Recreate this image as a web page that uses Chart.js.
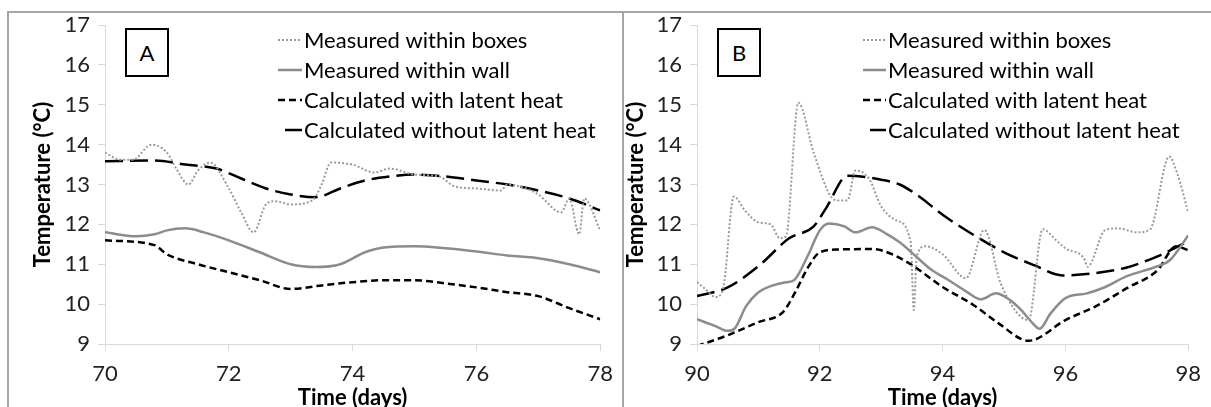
<!DOCTYPE html>
<html>
<head>
<meta charset="utf-8">
<script src="https://cdn.jsdelivr.net/npm/chart.js@4.4.0/dist/chart.umd.min.js"></script>
<style>
	html, body { margin: 0; padding: 0; background: #fff; }
	body { width: 1211px; height: 407px; overflow: hidden; position: relative; font-family: Lato, "Open Sans", sans-serif; }
	canvas { position: absolute; top: 0; }
	#chartA { left: 0; }
	#chartB { left: 620px; }
	.frame { position: absolute; background: #a6a6a6; }
	.panel-tag { position: absolute; box-sizing: border-box; border: 2px solid #000; font-size: 22px; color: #000;
		display: flex; align-items: center; justify-content: center; background: #fff; }
</style>
</head>
<body>
<canvas id="chartA" width="623" height="420"></canvas>
<canvas id="chartB" width="591" height="420"></canvas>

<!-- outer frame and divider -->
<div class="frame" style="left:8px; top:11px; width:1203px; height:2px;"></div>
<div class="frame" style="left:7px; top:11px; width:2px; height:396px;"></div>
<div class="frame" style="left:622px; top:11px; width:2px; height:396px;"></div>

<div class="panel-tag" style="left:125px; top:28px; width:44px; height:49px;">A</div>
<div class="panel-tag" style="left:717px; top:28px; width:44px; height:49px;">B</div>

<script>
// ---- Series labels
var seriesNames = ["Measured within boxes", "Measured within wall", "Calculated with latent heat", "Calculated without latent heat"];

// ---- Panel A (days 70 - 78)
var aBoxesX = [70.0, 70.25, 70.45, 70.75, 71.0, 71.15, 71.35, 71.5, 71.7, 72.0, 72.2, 72.4, 72.6, 72.75, 73.0, 73.35, 73.5, 73.65, 74.0, 74.35, 74.6, 75.0, 75.4, 75.65, 76.0, 76.4, 76.5, 76.8, 77.0, 77.37, 77.5, 77.66, 77.74, 78.0];
var aBoxesY = [13.8, 13.62, 13.62, 14.0, 13.8, 13.4, 13.0, 13.35, 13.55, 12.9, 12.3, 11.8, 12.5, 12.58, 12.5, 12.6, 13.0, 13.55, 13.5, 13.3, 13.4, 13.25, 13.2, 12.95, 12.9, 12.85, 13.0, 12.9, 12.75, 12.3, 12.65, 11.75, 12.65, 11.85];
var aWallX = [70.0, 70.5, 70.8, 71.0, 71.3, 71.6, 72.0, 72.5, 73.0, 73.4, 73.8, 74.2, 74.5, 75.0, 75.5, 76.0, 76.5, 77.0, 77.5, 78.0];
var aWallY = [11.8, 11.7, 11.75, 11.85, 11.9, 11.8, 11.6, 11.3, 11.0, 10.93, 11.0, 11.3, 11.42, 11.45, 11.4, 11.32, 11.22, 11.15, 11.0, 10.8];
var aLatentX = [70.0, 70.8, 71.0, 71.5, 72.0, 72.5, 73.0, 73.5, 74.0, 74.5, 75.0, 75.5, 76.0, 76.5, 77.0, 77.5, 78.0];
var aLatentY = [11.6, 11.48, 11.25, 11.0, 10.8, 10.6, 10.38, 10.47, 10.55, 10.6, 10.6, 10.52, 10.42, 10.3, 10.2, 9.9, 9.62];
var aNoLatentX = [70.0, 70.8, 71.3, 71.8, 72.2, 72.6, 73.0, 73.4, 73.8, 74.2, 74.6, 75.0, 75.5, 76.0, 76.5, 77.0, 77.5, 78.0];
var aNoLatentY = [13.58, 13.6, 13.5, 13.4, 13.15, 12.9, 12.75, 12.68, 12.9, 13.1, 13.2, 13.25, 13.2, 13.1, 13.0, 12.85, 12.65, 12.35];

// ---- Panel B (days 90 - 98)
var bBoxesX = [90.0, 90.12, 90.3, 90.42, 90.6, 90.78, 91.0, 91.2, 91.35, 91.45, 91.65, 91.9, 92.2, 92.3, 92.45, 92.58, 92.8, 93.0, 93.25, 93.48, 93.53, 93.58, 93.72, 94.0, 94.38, 94.68, 94.95, 95.4, 95.63, 95.85, 96.0, 96.3, 96.36, 96.65, 96.85, 97.17, 97.38, 97.69, 97.82, 98.0];
var bBoxesY = [10.55, 10.4, 10.18, 10.35, 12.7, 12.35, 12.05, 12.0, 11.65, 11.7, 15.05, 13.8, 12.66, 12.6, 12.6, 13.35, 13.15, 12.45, 12.1, 11.55, 9.85, 11.2, 11.45, 11.25, 10.65, 11.86, 10.5, 9.6, 11.88, 11.6, 11.4, 11.15, 10.94, 11.86, 11.9, 11.8, 11.88, 13.7, 13.28, 12.3];
var bWallX = [90.0, 90.3, 90.5, 90.62, 90.8, 91.0, 91.2, 91.45, 91.58, 91.8, 92.0, 92.15, 92.4, 92.58, 92.85, 93.1, 93.3, 93.55, 93.8, 94.1, 94.4, 94.62, 94.87, 95.0, 95.25, 95.45, 95.58, 95.75, 96.0, 96.35, 96.65, 97.0, 97.5, 97.7, 98.0];
var bWallY = [9.62, 9.45, 9.33, 9.4, 9.95, 10.3, 10.45, 10.55, 10.6, 11.2, 11.85, 12.02, 11.95, 11.8, 11.93, 11.75, 11.55, 11.22, 10.88, 10.6, 10.3, 10.12, 10.27, 10.2, 9.9, 9.55, 9.38, 9.75, 10.15, 10.27, 10.43, 10.7, 10.95, 11.1, 11.72];
var bLatentX = [90.0, 90.5, 91.0, 91.4, 91.6, 91.8, 92.0, 92.3, 92.8, 93.0, 93.45, 94.0, 94.5, 94.9, 95.4, 96.0, 96.5, 97.0, 97.5, 97.8, 98.0];
var bLatentY = [8.95, 9.22, 9.55, 9.8, 10.3, 10.9, 11.3, 11.37, 11.38, 11.35, 11.03, 10.43, 9.98, 9.53, 9.08, 9.6, 9.95, 10.4, 10.85, 11.45, 11.35];
var bNoLatentX = [90.0, 90.5, 91.0, 91.5, 91.9, 92.1, 92.45, 93.0, 93.3, 93.6, 94.0, 94.5, 95.0, 95.5, 95.95, 96.5, 97.0, 97.5, 98.0];
var bNoLatentY = [10.2, 10.42, 10.95, 11.65, 11.95, 12.4, 13.22, 13.12, 13.0, 12.72, 12.24, 11.74, 11.3, 10.97, 10.72, 10.78, 10.92, 11.2, 11.58];

// ---- Axis ranges
var aRange = [70, 78];
var bRange = [90, 98];
var yRange = [9, 17];

/**
 * Function: toPoints
 * pairs an x array and a y array into {x, y} points
 */
function toPoints(xs, ys) {
	return xs.map(function (x, i) { return { x: x, y: ys[i] }; });
}

/**
 * Function: makeDatasets
 * builds the four line datasets in the same style for both panels
 */
function makeDatasets(boxes, wall, latent, noLatent) {
	return [
		{ label: seriesNames[0], data: boxes, borderColor: "#9a9a9a", borderWidth: 2, borderDash: [2, 2] },
		{ label: seriesNames[1], data: wall, borderColor: "#8c8c8c", borderWidth: 2.5, borderDash: [] },
		{ label: seriesNames[2], data: latent, borderColor: "#000000", borderWidth: 2.5, borderDash: [7, 4] },
		{ label: seriesNames[3], data: noLatent, borderColor: "#000000", borderWidth: 2.5, borderDash: [18, 7] }
	];
}

// legend drawn inside the plot area, one row per dataset
var insideLegend = {
	id: "insideLegend",
	afterDraw: function (chart, args, opts) {
		var ctx = chart.ctx;
		ctx.save();
		ctx.font = opts.font;
		ctx.fillStyle = "#000";
		ctx.textBaseline = "middle";
		chart.data.datasets.forEach(function (ds, i) {
			var y = opts.top + i * opts.rowGap;
			var x0 = opts.lineStart;
			ctx.strokeStyle = ds.borderColor;
			ctx.lineWidth = ds.borderWidth;
			ctx.setLineDash(ds.borderDash || []);
			// long dash shows gap first, like the original sample
			ctx.lineDashOffset = (ds.borderDash && ds.borderDash[0] > 10) ? ds.borderDash[0] : 0;
			ctx.beginPath();
			ctx.moveTo(x0, y);
			ctx.lineTo(opts.lineEnd, y);
			ctx.stroke();
			ctx.setLineDash([]);
			ctx.fillText(ds.label, opts.textStart, y + 1);
		});
		ctx.restore();
	}
};

/**
 * Function: makeChart
 * creates one panel with fixed plot-area edges
 */
function makeChart(canvasId, datasets, xRange, layoutCfg) {
	var canvas = document.getElementById(canvasId);
	var tickFont = { family: "Lato", size: 22 };
	var titleFont = { family: "Lato", size: 22, weight: "bold" };
	var axisGrey = "#d9d9d9";

	return new Chart(canvas, {
		type: "line",
		data: { datasets: datasets },
		options: {
			responsive: false,
			animation: false,
			events: [],
			layout: { padding: { left: 0, top: layoutCfg.top, right: layoutCfg.right, bottom: 0 } },
			elements: {
				point: { radius: 0 },
				line: { cubicInterpolationMode: "monotone", fill: false }
			},
			plugins: {
				legend: { display: false },
				tooltip: { enabled: false },
				insideLegend: layoutCfg.legend
			},
			scales: {
				x: {
					type: "linear",
					min: xRange[0],
					max: xRange[1],
					ticks: { stepSize: 2, font: tickFont, color: "#222", padding: 10 },
					grid: { drawOnChartArea: false, drawTicks: true, tickLength: 7, color: axisGrey },
					border: { color: axisGrey },
					title: { display: true, text: "Time (days)", font: titleFont, color: "#000", padding: { top: 0, bottom: 9 } },
					afterFit: function (s) { s.height = canvas.height - layoutCfg.bottom; }
				},
				y: {
					min: yRange[0],
					max: yRange[1],
					ticks: { stepSize: 1, font: tickFont, color: "#222", padding: 8 },
					grid: { drawOnChartArea: false, drawTicks: true, tickLength: 7, color: axisGrey },
					border: { color: axisGrey },
					title: { display: true, text: "Temperature (°C)", font: titleFont, color: "#000", padding: { top: layoutCfg.titlePad, bottom: 0 } },
					afterFit: function (s) { s.width = layoutCfg.left; }
				}
			}
		},
		plugins: [insideLegend]
	});
}

var chartA = makeChart("chartA",
	makeDatasets(toPoints(aBoxesX, aBoxesY), toPoints(aWallX, aWallY), toPoints(aLatentX, aLatentY), toPoints(aNoLatentX, aNoLatentY)),
	aRange,
	{ left: 105, right: 22, top: 25, bottom: 344, titlePad: 30,
	  legend: { font: "22px Lato", top: 40, rowGap: 30, lineStart: 278, lineEnd: 302, textStart: 304 } });

var chartB = makeChart("chartB",
	makeDatasets(toPoints(bBoxesX, bBoxesY), toPoints(bWallX, bWallY), toPoints(bLatentX, bLatentY), toPoints(bNoLatentX, bNoLatentY)),
	bRange,
	{ left: 77, right: 20, top: 25, bottom: 344, titlePad: 3,
	  legend: { font: "22px Lato", top: 40, rowGap: 30, lineStart: 243, lineEnd: 266, textStart: 268 } });
</script>
</body>
</html>
